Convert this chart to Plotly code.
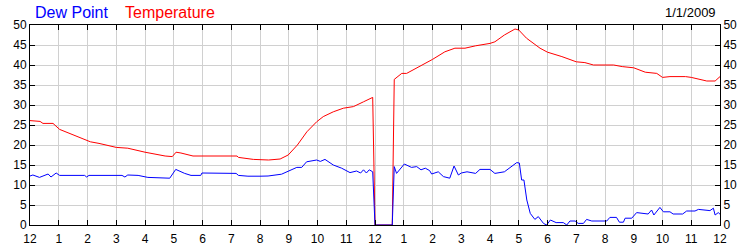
import plotly.graph_objects as go

# Time in hours since midnight
temp_hours = [0, 0.35, 0.45, 0.8, 1.03, 1.5, 2.1, 2.4, 3.0, 3.4, 4.0, 4.7, 4.95, 5.08, 5.25, 5.67,
              7.2, 7.25, 7.77, 8.3, 8.7, 8.98, 9.3, 9.63, 9.97, 10.2, 10.55, 10.9, 11.25, 11.6, 11.92,
              12.0, 12.6, 12.67, 12.93, 13.1, 13.33, 13.67, 14.0, 14.43, 14.78, 15.13, 15.5, 16.0,
              16.17, 16.5, 16.87, 17.0, 17.27, 17.74, 18.0, 18.5, 19.0, 19.3, 19.6, 20.3, 20.6, 21.0,
              21.4, 21.8, 22.0, 22.26, 22.8, 23.0, 23.25, 23.54, 23.83, 24.0]
temp_vals = [26.1, 25.9, 25.4, 25.4, 23.9, 22.5, 20.8, 20.4, 19.4, 19.2, 18.2, 17.25, 17.1, 18.2, 18.0, 17.25,
             17.25, 16.9, 16.4, 16.25, 16.5, 17.5, 20.0, 23.3, 25.8, 27.1, 28.3, 29.2, 29.6, 30.8, 31.9,
             0, 0, 36.4, 37.9, 37.9, 38.75, 40.0, 41.4, 43.3, 44.2, 44.2, 44.8, 45.4,
             45.8, 47.5, 49.0, 48.75, 46.7, 44.2, 43.2, 42.1, 40.8, 40.6, 40.0, 40.0, 39.6, 39.3,
             38.2, 37.9, 36.9, 37.1, 37.1, 36.9, 36.4, 36.0, 36.0, 37.1]

dew_hours = [0, 0.1, 0.33, 0.63, 0.73, 0.91, 1.03, 1.9, 1.97, 2.05, 3.2, 3.3, 3.4, 3.76, 4.1, 4.56,
             4.86, 5.07, 5.38, 5.6, 5.94, 5.98, 7.17, 7.25, 7.58, 8.0, 8.28, 8.75, 9.1, 9.28, 9.45,
             9.62, 9.97, 10.1, 10.26, 10.55, 10.84, 11.13, 11.36, 11.5, 11.6, 11.7, 11.8, 11.92,
             12.0, 12.6, 12.67, 12.75, 13.02, 13.27, 13.45, 13.6, 13.75, 13.9, 13.97, 14.2, 14.38,
             14.6, 14.75, 14.9, 15.0, 15.2, 15.5, 15.65, 16.0, 16.17, 16.5, 16.75, 16.93, 17.02,
             17.1, 17.18, 17.28, 17.4, 17.56, 17.68, 17.86, 17.97, 18.1, 18.3, 18.55, 18.67, 18.78,
             18.96, 19.07, 19.25, 19.36, 19.54, 20.06, 20.17, 20.4, 20.5, 20.64, 20.7, 20.93, 21.1,
             21.5, 21.62, 21.7, 21.91, 22.03, 22.26, 22.37, 22.7, 22.84, 23.13, 23.25, 23.65, 23.77,
             23.83, 23.94, 24.0]
dew_vals = [12.25, 12.5, 11.9, 12.75, 12.0, 13.0, 12.4, 12.4, 12.0, 12.4, 12.4, 12.0, 12.5, 12.4, 11.9, 11.7,
            11.7, 13.9, 12.9, 12.4, 12.4, 13.0, 12.9, 12.4, 12.2, 12.2, 12.25, 12.7, 13.9, 14.4, 14.4,
            15.8, 16.25, 15.9, 16.4, 15.0, 14.2, 13.1, 13.5, 13.0, 13.8, 13.0, 13.8, 13.3,
            0, 0, 14.6, 12.9, 15.25, 14.4, 14.6, 13.8, 14.2, 13.6, 12.75, 13.3, 12.1,
            11.7, 14.75, 12.5, 13.0, 13.3, 12.9, 13.9, 13.9, 12.9, 13.3, 14.6, 15.6, 15.5,
            11.25, 11.25, 6.25, 2.9, 1.4, 2.1, 0.4, 0, 1.25, 0.6, 0.6, 0, 1.0,
            1.0, 0.4, 0.4, 1.4, 1.0, 1.0, 1.9, 1.9, 0.7, 0.7, 1.7, 1.7, 3.1,
            2.75, 3.75, 2.5, 4.4, 3.3, 3.3, 2.75, 2.75, 3.5, 3.5, 3.9, 3.6, 4.2,
            2.5, 3.1, 2.7]

tick_hours = list(range(0, 25))
tick_labels = ["12"] + [str(h) for h in range(1, 12)] + ["12"] + [str(h) for h in range(1, 12)] + ["12"]
y_ticks = list(range(0, 55, 5))

FONT = "Arial, Liberation Sans, sans-serif"
GRID = "#d0d0d0"

fig = go.Figure()
fig.add_trace(go.Scatter(x=temp_hours, y=temp_vals, mode="lines", name="Temperature",
                         line=dict(color="#ff0000", width=1), yaxis="y"))
fig.add_trace(go.Scatter(x=dew_hours, y=dew_vals, mode="lines", name="Dew Point",
                         line=dict(color="#0000ff", width=1), yaxis="y2"))

axis_common = dict(ticks="inside", ticklen=5, tickcolor="black", tickwidth=1,
                   showline=True, linecolor="black", linewidth=1, zeroline=False,
                   automargin=False,
                   tickfont=dict(family=FONT, size=12, color="black"))

fig.update_layout(
    width=750, height=250,
    margin=dict(l=30, r=30, t=25, b=25, autoexpand=False),
    paper_bgcolor="white", plot_bgcolor="white",
    showlegend=False,
    xaxis=dict(range=[0, 24], tickvals=tick_hours, ticktext=tick_labels, ticklabelstandoff=3,
               showgrid=True, gridcolor=GRID, gridwidth=1, mirror="ticks", **axis_common),
    yaxis=dict(range=[0, 50], tickvals=y_ticks, showgrid=True, gridcolor=GRID, gridwidth=1,
               mirror="ticks", **axis_common),
    yaxis2=dict(range=[0, 50], tickvals=y_ticks, overlaying="y", side="right", matches="y",
                showgrid=False, **axis_common),
    annotations=[
        dict(text="Dew Point", x=3 / 690, y=1.065, xref="paper", yref="paper",
             xanchor="left", yanchor="middle", showarrow=False,
             font=dict(family=FONT, size=16, color="#0000ff")),
        dict(text="Temperature", x=93 / 690, y=1.065, xref="paper", yref="paper",
             xanchor="left", yanchor="middle", showarrow=False,
             font=dict(family=FONT, size=16, color="#ff0000")),
        dict(text="1/1/2009", x=(718 - 30) / 690, y=1.065, xref="paper", yref="paper",
             xanchor="right", yanchor="middle", showarrow=False,
             font=dict(family=FONT, size=13, color="black")),
    ],
)

fig.write_html("out.html")
